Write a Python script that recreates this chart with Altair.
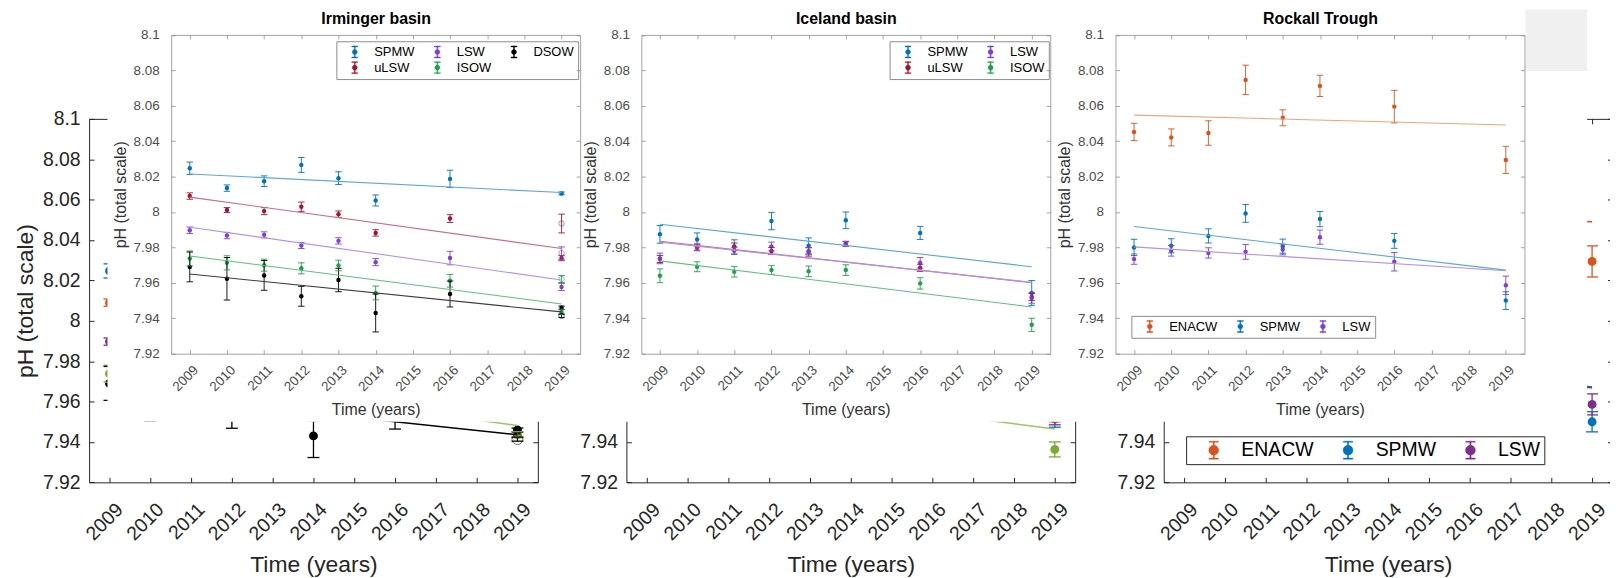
import altair as alt
import pandas as pd

FONT = "Liberation Sans"

YEARS = [2009, 2010, 2011, 2012, 2013, 2014, 2016, 2019]
X_TICKS = [2009, 2010, 2011, 2012, 2013, 2014, 2015, 2016, 2017, 2018, 2019]
Y_TICKS = [7.92, 7.94, 7.96, 7.98, 8.0, 8.02, 8.04, 8.06, 8.08, 8.1]
Y_TICKS_LOW = [7.92, 7.94]

# ---------------- Irminger basin ----------------
IRM_MASSES = ["SPMW", "uLSW", "LSW", "ISOW", "DSOW"]
irm_spmw = [8.0247, 8.0135, 8.0174, 8.0266, 8.0191, 8.0065, 8.0187, 8.0105]
irm_spmw_err = [0.0035, 0.0018, 0.0030, 0.0042, 0.0036, 0.0031, 0.0049, 0.0008]
irm_ulsw = [8.0090, 8.0011, 8.0005, 8.0030, 7.9988, 7.9882, 7.9963, 7.9740]
irm_ulsw_err = [0.0018, 0.0014, 0.0020, 0.0026, 0.0018, 0.0018, 0.0022, 0.0015]
irm_lsw = [7.9897, 7.9867, 7.9871, 7.9811, 7.9837, 7.9717, 7.9740, 7.9577]
irm_lsw_err = [0.0018, 0.0018, 0.0017, 0.0017, 0.0018, 0.0020, 0.0038, 0.0020]
irm_isow = [7.9738, 7.9713, 7.9700, 7.9682, 7.9698, 7.9543, 7.9612, 7.9436]
irm_isow_err = [0.0042, 0.0040, 0.0034, 0.0031, 0.0030, 0.0039, 0.0036, 0.0015]
irm_dsow = [7.9690, 7.9623, 7.9642, 7.9524, 7.9616, 7.9430, 7.9537, 7.9459]
irm_dsow_err = [0.0084, 0.0120, 0.0084, 0.0056, 0.0066, 0.0107, 0.0073, 0.0010]
irm_fit_2009 = [8.0215, 8.0084, 7.9914, 7.9752, 7.9650]
irm_fit_2019 = [8.0110, 7.9794, 7.9616, 7.9481, 7.9436]
IRM_OPEN_MASSES = ["uLSW", "LSW", "ISOW", "DSOW"]
irm_open_2019 = [7.9935, 7.9768, 7.9622, 7.9414]
irm_open_err = [0.0053, 0.0035, 0.0020, 0.0010]

# ---------------- Iceland basin ----------------
ICE_MASSES = ["SPMW", "uLSW", "LSW", "ISOW"]
ice_spmw = [7.9874, 7.9845, 7.9803, 7.9949, 7.9809, 7.9953, 7.9882, 7.9543]
ice_spmw_err = [0.0050, 0.0037, 0.0040, 0.0049, 0.0045, 0.0047, 0.0037, 0.0070]
ice_ulsw = [7.9735, 7.9800, 7.9805, 7.9780, 7.9778, 7.9820, 7.9685, 7.9520]
ice_ulsw_err = [0.0020, 0.0015, 0.0020, 0.0020, 0.0020, 0.0012, 0.0020, 0.0020]
ice_lsw = [7.9738, 7.9801, 7.9781, 7.9805, 7.9775, 7.9820, 7.9713, 7.9515]
ice_lsw_err = [0.0030, 0.0020, 0.0020, 0.0025, 0.0025, 0.0015, 0.0030, 0.0030]
ice_isow = [7.9640, 7.9691, 7.9663, 7.9672, 7.9665, 7.9672, 7.9597, 7.9363]
ice_isow_err = [0.0039, 0.0028, 0.0030, 0.0025, 0.0030, 0.0030, 0.0032, 0.0037]
ice_fit_2009 = [7.9931, 7.9835, 7.9830, 7.9724]
ice_fit_2019 = [7.9691, 7.9601, 7.9603, 7.9464]

# ---------------- Rockall Trough ----------------
ROC_MASSES = ["ENACW", "SPMW", "LSW"]
roc_enacw = [8.0452, 8.0421, 8.0446, 8.0746, 8.0532, 8.0712, 8.0595, 8.0294]
roc_enacw_err = [0.0049, 0.0048, 0.0069, 0.0083, 0.0045, 0.0060, 0.0092, 0.0077]
roc_spmw = [7.9800, 7.9809, 7.9865, 7.9992, 7.9807, 7.9960, 7.9837, 7.9500]
roc_spmw_err = [0.0046, 0.0040, 0.0040, 0.0050, 0.0040, 0.0043, 0.0042, 0.0050]
roc_lsw = [7.9734, 7.9781, 7.9769, 7.9775, 7.9788, 7.9858, 7.9719, 7.9586]
roc_lsw_err = [0.0029, 0.0030, 0.0029, 0.0042, 0.0030, 0.0040, 0.0052, 0.0052]
roc_fit_2009 = [8.0547, 7.9918, 7.9803]
roc_fit_2019 = [8.0491, 7.9672, 7.9668]

# ---------------- colours ----------------
FG_PAL = {"SPMW": "#0072BD", "uLSW": "#A2142F", "LSW": "#7E3FD9", "ISOW": "#1FA04C",
          "DSOW": "#000000", "ENACW": "#D95319"}
FG_LINE = {"SPMW": "#5DA6D8", "uLSW": "#C7707F", "LSW": "#B490E8", "ISOW": "#62BC80",
           "DSOW": "#3C3C3C", "ENACW": "#EBA57C"}
BG_PAL = {"SPMW": "#0072BD", "uLSW": "#D95319", "LSW": "#7E2F8E", "ISOW": "#77AC30",
          "DSOW": "#000000", "ENACW": "#D95319"}
BG_LINE = {"SPMW": "#0072BD", "uLSW": "#D95319", "LSW": "#7E2F8E", "ISOW": "#9DC45F",
           "DSOW": "#000000", "ENACW": "#D95319"}

FG_SYM = ("M-0.08,-1H0.08V1H-0.08Z"
          "M-0.5,-1H0.5V-0.84H-0.5Z"
          "M-0.5,0.84H0.5V1H-0.5Z"
          "M-0.42,0A0.42,0.42 0 1,1 0.42,0A0.42,0.42 0 1,1 -0.42,0Z")
BG_SYM = ("M-0.07,-1H0.07V1H-0.07Z"
          "M-0.53,-1H0.53V-0.88H-0.53Z"
          "M-0.53,0.88H0.53V1H-0.53Z"
          "M-0.55,0A0.55,0.55 0 1,1 0.55,0A0.55,0.55 0 1,1 -0.55,0Z")

# ---------------- layout (page layout of the two superposed figures) ----------------
W, H = 1610, 570
ST_BG = dict(w=451, yt=110, yb=475.3, z=0, axis_color="#262626", label_color="#262626",
             title_color="#262626", line_w=1, tick_fs=19.5, title_fs=23, x_lpad=24,
             x_loff=10, x_tpad=10, y_lpad=9, y_title_x=-64, tick_size=5, pt=80, cap=12,
             err_w=1.3, fit_w=1.5, err_op=1.0, head_fs=16, head_pad=8)
ST_FG = dict(w=411, yt=25.6, yb=346, z=1, axis_color="#8C8C8C", label_color="#4D4D4D",
             title_color="#333333", line_w=0.8, tick_fs=13.5, title_fs=16, x_lpad=14,
             x_loff=6, x_tpad=8, y_lpad=12, y_title_x=-51, tick_size=4, pt=20, cap=6.5,
             err_w=1, fit_w=1.1, err_op=0.9, head_fs=16, head_pad=8)
BG_X0 = [81.5, 621.5, 1161.5]
FG_X0 = [164, 636.5, 1113]


def points_df(masses, series, errs):
    rows = []
    for m, vals, es in zip(masses, series, errs):
        for yr, v, e in zip(YEARS, vals, es):
            rows.append({"mass": m, "year": yr, "value": v, "lo": v - e, "hi": v + e})
    return pd.DataFrame(rows)


def fits_df(masses, start, end):
    rows = []
    for m, a, b in zip(masses, start, end):
        rows.append({"mass": m, "year": 2009, "value": a})
        rows.append({"mass": m, "year": 2019, "value": b})
    return pd.DataFrame(rows)


def open_df(masses, vals, errs):
    return pd.DataFrame({"mass": masses, "year": [2019] * len(masses), "value": vals,
                         "lo": [v - e for v, e in zip(vals, errs)],
                         "hi": [v + e for v, e in zip(vals, errs)]})


irm_pts = points_df(IRM_MASSES, [irm_spmw, irm_ulsw, irm_lsw, irm_isow, irm_dsow],
                    [irm_spmw_err, irm_ulsw_err, irm_lsw_err, irm_isow_err, irm_dsow_err])
irm_fit = fits_df(IRM_MASSES, irm_fit_2009, irm_fit_2019)
irm_open = open_df(IRM_OPEN_MASSES, irm_open_2019, irm_open_err)
ice_pts = points_df(ICE_MASSES, [ice_spmw, ice_ulsw, ice_lsw, ice_isow],
                    [ice_spmw_err, ice_ulsw_err, ice_lsw_err, ice_isow_err])
ice_fit = fits_df(ICE_MASSES, ice_fit_2009, ice_fit_2019)
roc_pts = points_df(ROC_MASSES, [roc_enacw, roc_spmw, roc_lsw],
                    [roc_enacw_err, roc_spmw_err, roc_lsw_err])
roc_fit = fits_df(ROC_MASSES, roc_fit_2009, roc_fit_2019)


def common_axis(st):
    return dict(grid=False, zindex=st["z"], labelFont=FONT, titleFont=FONT,
                domainColor=st["axis_color"], tickColor=st["axis_color"],
                domainWidth=st["line_w"], tickWidth=st["line_w"],
                labelColor=st["label_color"], titleColor=st["title_color"],
                labelOverlap=False, labelFlush=False)


def build_panel(pts, fits, opens, x0, st, pal, line_pal, order, legend, title,
                y_labels=Y_TICKS, y_title="pH (total scale)"):
    x1 = x0 + st["w"]
    yt, yb = st["yt"], st["yb"]
    xs = alt.Scale(domain=[2008.5, 2019.5], range=[x0, x1], nice=False, zero=False)
    ys = alt.Scale(domain=[7.92, 8.1], range=[yb, yt], nice=False, zero=False)
    cs = alt.Scale(domain=order, range=[pal[m] for m in order])
    line_order = list(reversed(order))
    ss = alt.Scale(domain=line_order, range=[line_pal[m] for m in line_order])
    c = common_axis(st)
    ts = st["tick_size"]

    ax_bottom = alt.Axis(orient="bottom", offset=yb - H, values=X_TICKS, format="d",
                         labelAngle=315, labelAlign="right", labelBaseline="middle",
                         labelFontSize=st["tick_fs"], labelPadding=st["x_lpad"],
                         labelOffset=st["x_loff"], ticks=False, domain=True,
                         title="Time (years)", titleFontSize=st["title_fs"],
                         titleFontWeight="normal", titlePadding=st["x_tpad"], **c)
    left_kw = dict(orient="left", offset=-x0, values=y_labels, format=".3~g",
                   labelFontSize=st["tick_fs"], labelPadding=st["y_lpad"], ticks=False,
                   domain=True)
    if y_title:
        left_kw.update(title=y_title, titleFontSize=st["title_fs"], titleFontWeight="normal",
                       titleX=st["y_title_x"], titleBaseline="middle")
    else:
        left_kw.update(title=None)
    ax_left = alt.Axis(**left_kw, **c)
    ax_top_edge = alt.Axis(orient="bottom", offset=yt - H, values=X_TICKS, labels=False,
                           ticks=True, tickSize=ts, domain=True, title=None, **c)
    ax_right_edge = alt.Axis(orient="left", offset=-x1, values=Y_TICKS, labels=False,
                             ticks=True, tickSize=ts, domain=True, title=None, **c)
    ax_bottom_in = alt.Axis(orient="top", offset=-yb, values=X_TICKS, labels=False,
                            ticks=True, tickSize=ts, domain=False, title=None, **c)
    ax_left_in = alt.Axis(orient="right", offset=x0 - W, values=Y_TICKS, labels=False,
                          ticks=True, tickSize=ts, domain=False, title=None, **c)
    head_kw = dict(c)
    head_kw["titleColor"] = "#000000"
    if title:
        ax_head = alt.Axis(orient="top", offset=-yt, labels=False, ticks=False, domain=False,
                           title=title, titleFontSize=st["head_fs"], titleFontWeight="bold",
                           titlePadding=st["head_pad"], **head_kw)
    else:
        ax_head = None

    color_enc = alt.Color("mass:N", scale=cs, legend=legend)
    err_df = pts if opens is None else pd.concat([pts, opens], ignore_index=True)

    lines = alt.Chart(fits).mark_line(strokeWidth=st["fit_w"]).encode(
        x=alt.X("year:Q", scale=xs, axis=None),
        y=alt.Y("value:Q", scale=ys, axis=None),
        stroke=alt.Stroke("mass:N", scale=ss, legend=None),
        detail="mass:N")
    rules = alt.Chart(err_df).mark_rule(strokeWidth=st["err_w"], opacity=st["err_op"]).encode(
        x=alt.X("year:Q", scale=xs, axis=ax_top_edge),
        y=alt.Y("lo:Q", scale=ys, axis=ax_right_edge),
        y2="hi:Q",
        color=color_enc)
    caps_lo = alt.Chart(err_df).mark_tick(orient="horizontal", size=st["cap"],
                                          thickness=st["err_w"], opacity=st["err_op"]).encode(
        x=alt.X("year:Q", scale=xs, axis=ax_bottom_in),
        y=alt.Y("lo:Q", scale=ys, axis=ax_left_in),
        color=color_enc)
    caps_hi = alt.Chart(err_df).mark_tick(orient="horizontal", size=st["cap"],
                                          thickness=st["err_w"], opacity=st["err_op"]).encode(
        x=alt.X("year:Q", scale=xs, axis=ax_head),
        y=alt.Y("hi:Q", scale=ys, axis=None),
        color=color_enc)
    pts_layer = alt.Chart(pts).mark_circle(size=st["pt"], opacity=1).encode(
        x=alt.X("year:Q", scale=xs, axis=ax_bottom),
        y=alt.Y("value:Q", scale=ys, axis=ax_left),
        color=color_enc)
    layers = [pts_layer, rules, caps_lo, caps_hi]
    if opens is not None:
        layers.append(alt.Chart(opens).mark_point(filled=False, size=st["pt"] * 1.5,
                                                  strokeWidth=1, opacity=0.55).encode(
            x=alt.X("year:Q", scale=xs, axis=None),
            y=alt.Y("value:Q", scale=ys, axis=None),
            color=color_enc))
    layers.append(lines)
    return alt.layer(*layers).resolve_axis(x="independent", y="independent")


def fg_legend(x, y, cols):
    return alt.Legend(orient="none", legendX=x, legendY=y, columns=cols, title=None,
                      symbolType=FG_SYM, symbolSize=144, symbolStrokeWidth=0.4,
                      labelFont=FONT, labelFontSize=13, labelColor="#000000",
                      labelOffset=13, symbolOffset=8, columnPadding=8, rowPadding=1,
                      padding=4, strokeColor="#8C8C8C", fillColor="#FFFFFF")


bg_legend = alt.Legend(orient="none", legendX=1184, legendY=429, columns=3, title=None,
                       symbolType=BG_SYM, symbolSize=324, symbolStrokeWidth=0.4,
                       labelFont=FONT, labelFontSize=19.5, labelColor="#000000",
                       labelOffset=18, symbolOffset=14, columnPadding=10, padding=4,
                       strokeColor="#262626", fillColor="#FFFFFF")

bg_irm = build_panel(irm_pts, irm_fit, irm_open, BG_X0[0], ST_BG, BG_PAL, BG_LINE,
                     IRM_MASSES, None, None)
bg_ice = build_panel(ice_pts, ice_fit, None, BG_X0[1], ST_BG, BG_PAL, BG_LINE,
                     ICE_MASSES, None, None, y_labels=Y_TICKS_LOW, y_title=None)
bg_roc = build_panel(roc_pts, roc_fit, None, BG_X0[2], ST_BG, BG_PAL, BG_LINE,
                     ROC_MASSES, bg_legend, None, y_labels=Y_TICKS_LOW, y_title=None)

fg_irm = build_panel(irm_pts, irm_fit, irm_open, FG_X0[0], ST_FG, FG_PAL, FG_LINE,
                     IRM_MASSES, fg_legend(330, 32, 3), "Irminger basin")
fg_ice = build_panel(ice_pts, ice_fit, None, FG_X0[1], ST_FG, FG_PAL, FG_LINE,
                     ICE_MASSES, fg_legend(886, 32, 2), "Iceland basin")
fg_roc = build_panel(roc_pts, roc_fit, None, FG_X0[2], ST_FG, FG_PAL, FG_LINE,
                     ROC_MASSES, fg_legend(1129, 308, 3), "Rockall Trough")

one = pd.DataFrame({"k": [0]})
paper = alt.Chart(one).mark_rect(fill="#FFFFFF").encode(
    x=alt.value(100), x2=alt.value(1587), y=alt.value(0), y2=alt.value(414.5))
gray = alt.Chart(one).mark_rect(fill="#F0F0F0").encode(
    x=alt.value(1525), x2=alt.value(1587), y=alt.value(0), y2=alt.value(62))

chart = alt.layer(bg_irm, bg_ice, bg_roc, paper, gray, fg_irm, fg_ice, fg_roc).resolve_scale(
    x="independent", y="independent", color="independent", stroke="independent"
).resolve_axis(x="independent", y="independent").resolve_legend(
    color="independent", stroke="independent"
).properties(
    width=W, height=H, autosize=alt.AutoSizeParams(type="none"), padding=0
).configure(font=FONT).configure_view(stroke=None)

chart.save("out.html", embed_options={"renderer": "svg", "actions": False})
